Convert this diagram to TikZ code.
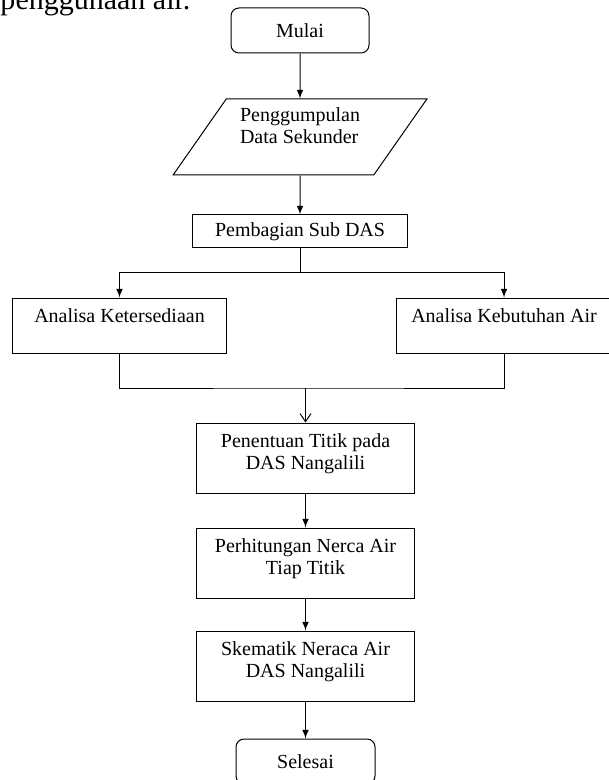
\documentclass[tikz,border=0pt]{standalone}
\usepackage{fontspec}
\setmainfont{Liberation Serif}
\usepackage{tikz}
\usetikzlibrary{shapes.geometric, arrows, arrows.meta}
\tikzstyle{terminal} = [rectangle, rounded corners=4pt, minimum width=69pt, minimum height=22.5pt, text centered, draw=black, font=\fontsize{10}{11}\selectfont]
\tikzstyle{io} = [trapezium, trapezium left angle=56, trapezium right angle=124, trapezium stretches=true, minimum width=127pt, minimum height=38pt, align=left, draw=black, font=\fontsize{10}{11}\selectfont]
\tikzstyle{proses} = [rectangle, minimum width=109pt, minimum height=35pt, align=center, draw=black, font=\fontsize{10}{11}\selectfont]

\begin{document}
\begin{tikzpicture}[node distance=50pt, line width=0.5pt]
        \useasboundingbox (0,0) rectangle (304.5pt,-390pt);
        \node[anchor=base west, inner sep=0pt, font=\fontsize{15}{18}\selectfont] (judul) at (0,-5pt) {penggunaan air.};

        \node[terminal] (mulai) at (150pt,-15.25pt) {Mulai};
        \node[io, below of=mulai, yshift=-3.25pt, text depth=11pt] (data) {Penggumpulan\\Data Sekunder};
        \node[proses, below of=data, yshift=2.75pt, minimum width=107.5pt, minimum height=16.5pt] (bagi) {Pembagian Sub DAS};
        \node[proses, below of=bagi, xshift=-90.25pt, yshift=3pt, minimum width=107pt, minimum height=27.5pt, text height=7pt, text depth=10pt] (sedia) {Analisa Ketersediaan};
        \node[proses, below of=bagi, xshift=102pt, yshift=3pt, minimum width=107.5pt, minimum height=27.5pt, text height=7pt, text depth=10pt] (butuh) {Analisa Kebutuhan Air};
        \node[proses, node distance=113.25pt, below of=bagi, xshift=2.75pt, text depth=6.4pt] (tentu) {Penentuan Titik pada\\DAS Nangalili};
        \node[proses, below of=tentu, yshift=-2.5pt, text depth=6.4pt] (hitung) {Perhitungan Nerca Air\\Tiap Titik};
        \node[proses, below of=hitung, yshift=-1.5pt, text depth=6.4pt] (skema) {Skematik Neraca Air\\DAS Nangalili};
        \node[terminal, below of=skema, yshift=2.25pt, minimum width=69.5pt] (selesai) {Selesai};

        \coordinate[node distance=20.75pt, below of=bagi] (pisah);
        \coordinate[node distance=35pt, above of=tentu] (gabung);

        \draw [-latex] (mulai) -- (data);
        \draw [-latex] (data) -- (bagi);
        \draw [-latex] (bagi) -- (pisah) -| (sedia);
        \draw [-latex] (pisah) -| (butuh);
        \draw (sedia) |- (gabung) -| (butuh);
        \draw [-{Straight Barb[length=4pt, width=5.5pt]}] (gabung) -- (tentu);
        \draw [-latex] (tentu) -- (hitung);
        \draw [-latex] (hitung) -- (skema);
        \draw [-latex] (skema) -- (selesai);
    \end{tikzpicture}
\end{document}
